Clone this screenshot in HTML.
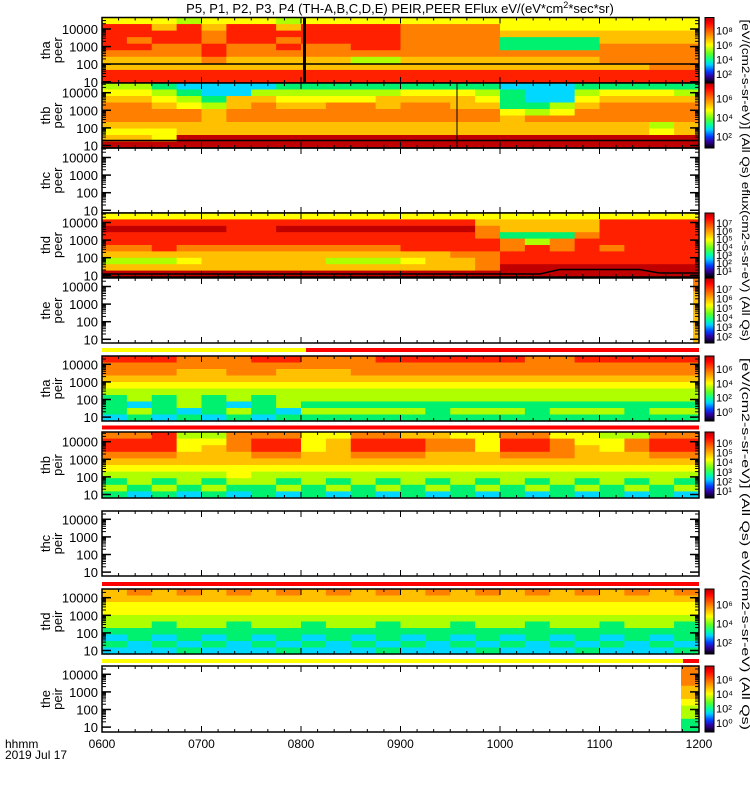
<!DOCTYPE html>
<html><head><meta charset="utf-8"><style>
html,body{margin:0;padding:0;background:#fff;}
svg{display:block;font-family:"Liberation Sans",sans-serif;}
</style></head><body>
<svg id="c" width="750" height="800" viewBox="0 0 750 800" xmlns="http://www.w3.org/2000/svg">
<defs>
<linearGradient id="cmap" x1="0" y1="0" x2="0" y2="1">
<stop offset="0" stop-color="#b00000"/><stop offset="0.08" stop-color="#ff0000"/><stop offset="0.25" stop-color="#ff8000"/><stop offset="0.42" stop-color="#ffff00"/><stop offset="0.55" stop-color="#60ff20"/><stop offset="0.65" stop-color="#00ffa0"/><stop offset="0.72" stop-color="#00d0ff"/><stop offset="0.82" stop-color="#0040ff"/><stop offset="0.9" stop-color="#3000a0"/><stop offset="1" stop-color="#000000"/>
</linearGradient>
</defs>
<text x="400" y="13" font-size="13" text-anchor="middle">P5, P1, P2, P3, P4 (TH-A,B,C,D,E) PEIR,PEER EFlux eV/(eV*cm<tspan baseline-shift="super" font-size="9">2</tspan>*sec*sr)</text>
<g id="layer"></g>
<text x="5" y="748" font-size="12">hhmm</text>
<text x="5" y="759" font-size="12">2019 Jul 17</text>
</svg>
<script>
// time axis
const timeTicks = ["0600","0700","0800","0900","1000","1100","1200"];
const timeStartH = 6, timeEndH = 12;
const nCols = 24;
// energy ticks
const energyTicks = [10000,1000,100,10];
// colour levels 0..9
const levelColors = ["#000000","#0020e0","#00d8ff","#00f070","#b0ff00","#ffff00","#ffc000","#ff8000","#ff2000","#c00000"];

const thaPeer = ["555455545555555555555555","886868868888777755555555","888878888888777766666666","878878878888777733336666","887787787788777733337777","777787777777777777777777","666676666644666666667777","666666666666666666666677","888888888888888888888888","888888888888888888888888"];
const thbPeer = ["443222233333333322233333","554322444444555432245554","665436655556666532256666","776546766776776633467777","777767777777777754577777","777767777777777767777777","666666666666666666666646","555666666666666666666656","665999999999999999999999","999999999999999999999999"];
const thdPeer = ["555555555555555555555555","888888888888888666668888","999998899999999766668888","888888888888888733378888","888888888888888874788888","778777777777888878787888","666666666666667788888888","444566666444566788888888","666666666666666799999999","999999999999999999999999"];
const thaPeir = ["888777887778888887788888","777777777777777777777777","777667766677777777777777","666666666666666666666666","555555555555555555555555","444444444444444444444444","343434344444444444444444","323432343333333333333333","343234324444434443444344","232323233333333333333333"];
const thbPeir = ["778447775577665577554477","888557885688877588755788","888567885688877588765788","777666776677766677766677","666666666666666666666666","555555555555555555555555","444445444444444444444444","343434434343434343434343","434343343434343434343434","323232323232323232323232"];
const thdPeir = ["676767676767676767676767","666666666666666666666666","555555555555555555555555","555555555555555555555555","444444444444444444444444","443443443443443443443443","333333333333333333333333","232323232323232323232323","323232323232323232323232","222322232223222322232223"];
const thePeirStrip = ["7","7","7","6","6","5","4","4","3","3"];
const thePeerStrip = ["7","7","6","6","6","6","6","6","6","6"];

const panelLabels = [["tha","peer"],["thb","peer"],["thc","peer"],["thd","peer"],["the","peer"],["tha","peir"],["thb","peir"],["thc","peir"],["thd","peir"],["the","peir"]];
const panelData = [thaPeer,thbPeer,null,thdPeer,null,thaPeir,thbPeir,null,thdPeir,null];

const X0=102, X1=699;
const panels=[{t:17.5,b:83,o:11.5},{t:83,b:148,o:9.7},{t:148,b:213,o:9.5},{t:213,b:277,o:9.5},{t:278,b:343,o:8.5},{t:356,b:421,o:8.3},{t:432,b:498,o:9.7},{t:511,b:576,o:8.3},{t:589,b:654,o:8.7},{t:666,b:732,o:8.3}];
const cbars=[[17.5,83],[83,148],[213,277],[278,343],[356,421],[432,498],[589,654],[666,732]];
const cbLabels=[["10⁸","10⁶","10⁴","10²"],["10⁶","10⁴","10²"],["10⁷","10⁶","10⁵","10⁴","10³","10²","10¹"],["10⁷","10⁶","10⁵","10⁴","10³","10²"],["10⁶","10⁴","10²","10⁰"],["10⁶","10⁵","10⁴","10³","10²","10¹"],["10⁶","10⁴","10²"],["10⁶","10⁴","10²","10⁰"]];

const NS="http://www.w3.org/2000/svg";
const L=document.getElementById('layer');
function mk(tag,attrs,parent){const e=document.createElementNS(NS,tag);for(const k in attrs)e.setAttribute(k,attrs[k]);(parent||L).appendChild(e);return e;}
function xScale(h){return X0+(h-timeStartH)/(timeEndH-timeStartH)*(X1-X0);}
function colX(c){return xScale(timeStartH+c*(timeEndH-timeStartH)/nCols);}
function eY(p,e){return p.t+p.o+(4-Math.log10(e))*17.6;}

let r;
r=mk('rect',{x:X0,y:348,width:306-X0,height:4,fill:'#ffff00'});


r=mk('rect',{x:306,y:348,width:X1-306,height:4,fill:'#ff0000'});


r=mk('rect',{x:X0,y:425.5,width:X1-X0,height:4,fill:'#ff0000'});


r=mk('rect',{x:X0,y:582,width:X1-X0,height:4,fill:'#ff0000'});


r=mk('rect',{x:X0,y:659,width:683-X0,height:4,fill:'#ffff00'});


r=mk('rect',{x:683,y:659,width:X1-683,height:4,fill:'#ff0000'});



panels.forEach((p,i)=>{
  const g=mk('g',{});
  
  
  const data=panelData[i];
  const rh=(p.b-p.t)/10;
  if(data){
    data.forEach((row,ri)=>{
      for(let c=0;c<nCols;c++){
        const x=colX(c);
        const cell=mk('rect',{x:x,y:p.t+ri*rh,width:colX(c+1)-x+0.4,height:rh+0.4,fill:levelColors[+row[c]]},g);
        
        
      }
    });
  }
  const strip = i===4?thePeerStrip:(i===9?thePeirStrip:null);
  if(strip){
    const sx = i===9?681:693;
    strip.forEach((v,ri)=>{
      const cell=mk('rect',{x:sx,y:p.t+ri*rh,width:X1-sx,height:rh+0.4,fill:levelColors[+v]},g);
      
      
    });
  }
  energyTicks.forEach(e=>{
    const y=eY(p,e);
    mk('line',{x1:X0,x2:X0+9,y1:y,y2:y,stroke:'#000','stroke-width':1.5},g);
    mk('line',{x1:X1-9,x2:X1,y1:y,y2:y,stroke:'#000','stroke-width':1.5},g);
    const t=mk('text',{x:98,y:y+5,'font-size':13,'text-anchor':'end'},g);
    t.textContent=String(e);
    
    
    for(let m=2;m<10;m++){
      const ym=eY(p,e*m);
      if(ym>p.t+1){
        mk('line',{x1:X0,x2:X0+4,y1:ym,y2:ym,stroke:'#000','stroke-width':1},g);
        mk('line',{x1:X1-4,x2:X1,y1:ym,y2:ym,stroke:'#000','stroke-width':1},g);
      }
    }
  });
  for(let k=0;k<=36;k++){
    const x=xScale(timeStartH+k/6);
    const len=k%6===0?6:3;
    mk('line',{x1:x,x2:x,y1:p.b,y2:p.b-len,stroke:'#000','stroke-width':1},g);
    mk('line',{x1:x,x2:x,y1:p.t,y2:p.t+len,stroke:'#000','stroke-width':1},g);
  }
  const fr=mk('rect',{x:X0,y:p.t,width:X1-X0,height:p.b-p.t,fill:'none',stroke:'#000','stroke-width':1.5},g);
  
  
  const cy=(p.t+p.b)/2;
  const lab=mk('text',{transform:`translate(52,${cy}) rotate(-90)`,'font-size':13,'text-anchor':'middle'},g);
  
  
  const t1=mk('tspan',{x:0,dy:-2},lab);t1.textContent=panelLabels[i][0];
  const t2=mk('tspan',{x:0,dy:12},lab);t2.textContent=panelLabels[i][1];
});

mk('line',{x1:X0,x2:X1,y1:64,y2:64,stroke:'#000','stroke-width':1.5});
mk('rect',{x:303,y:17.5,width:3,height:65.5,fill:'#000'});
mk('line',{x1:X0,x2:X1,y1:140.5,y2:140.5,stroke:'#000','stroke-width':1.5});
mk('line',{x1:457,x2:457,y1:83,y2:148,stroke:'#000','stroke-width':1});
mk('polyline',{points:`${X0},274 ${xScale(10.4)},274 ${xScale(10.6)},269.5 ${xScale(11.4)},269.5 ${xScale(11.6)},273 ${X1},273`,fill:'none',stroke:'#000','stroke-width':1.5});

cbars.forEach((cb,i)=>{
  const rc=mk('rect',{x:705,y:cb[0],width:9,height:cb[1]-cb[0],fill:'url(#cmap)',stroke:'#000','stroke-width':1});
  
  
  const labs=cbLabels[i];
  labs.forEach((s,k)=>{
    const y=cb[0]+6+(k+0.5)*(cb[1]-cb[0]-8)/labs.length;
    const t=mk('text',{x:716,y:y+4,'font-size':11});
    t.textContent=s;
    
    
  });
});
const unitTexts=[[17.5,343,"[eV/(cm2-s-sr-eV)] (All Qs) eflux(cm2-s-sr-eV) (All Qs)"],[356,732,"[eV/(cm2-s-sr-eV)] (All Qs) eV/(cm2-s-sr-eV) (All Qs)"]];
unitTexts.forEach(u=>{
  const t=mk('text',{transform:`translate(742,${(u[0]+u[1])/2}) rotate(90)`,'font-size':11,'text-anchor':'middle',textLength:u[1]-u[0]-4,lengthAdjust:'spacingAndGlyphs'});
  t.textContent=u[2];
  
  
});

timeTicks.forEach((s,k)=>{
  const t=mk('text',{x:xScale(timeStartH+k),y:748,'font-size':12,'text-anchor':'middle'});
  t.textContent=s;
  
  
});
</script>
</body></html>
